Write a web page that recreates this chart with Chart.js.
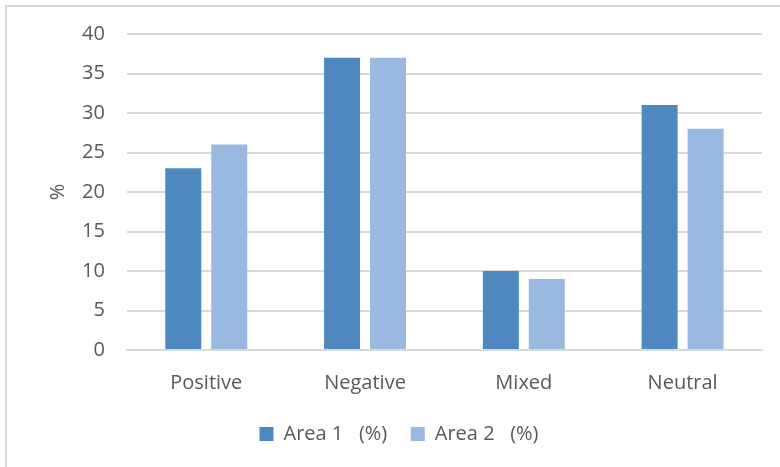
<!DOCTYPE html>
<html><head><meta charset="utf-8">
<script src="https://cdn.jsdelivr.net/npm/chart.js@4.4.1/dist/chart.umd.min.js"></script>
<style>
html,body{margin:0;padding:0;background:#fff;overflow:hidden;}
#frame{position:absolute;left:5px;top:5px;width:800px;height:500px;border:2px solid #d9d9d9;box-sizing:border-box;}
#wrap{position:absolute;left:0;top:0;width:780px;height:467px;}
</style></head>
<body>
<div id="frame"></div>
<div id="wrap"><canvas id="c" width="780" height="467"></canvas></div>
<script>
const categories = ["Positive", "Negative", "Mixed", "Neutral"];
const area1 = [23, 37, 10, 31];
const area2 = [26, 37, 9, 28];
const seriesNames = ["Area 1   (%)", "Area 2   (%)"];
const yTitle = "%";

const FONT = "'Open Sans', 'Noto Sans', sans-serif";
const FS = 20;
new Chart(document.getElementById('c'), {
  type: 'bar',
  data: {
    labels: categories,
    datasets: [
      {label: seriesNames[0], data: area1, backgroundColor: '#4f88bf', borderWidth: 0},
      {label: seriesNames[1], data: area2, backgroundColor: '#98b9e0', borderWidth: 0}
    ]
  },
  options: {
    responsive: false,
    animation: false,
    devicePixelRatio: 1,
    layout: {padding: {left: 36, right: 18, top: 33, bottom: 13}},
    datasets: {bar: {categoryPercentage: 0.579, barPercentage: 0.783}},
    plugins: {
      legend: {
        position: 'bottom',
        labels: {
          font: {family: FONT, size: FS}, color: '#595959', boxWidth: 14, boxHeight: 14, padding: 8,
          generateLabels(chart) {
            const items = Chart.defaults.plugins.legend.labels.generateLabels(chart);
            items.forEach((it, i) => { if (i < items.length - 1) it.text = it.text + '   '; });
            return items;
          }
        }
      },
      tooltip: {enabled: false}
    },
    scales: {
      x: {
        grid: {display: false, drawTicks: false},
        border: {color: '#d9d9d9', width: 2},
        ticks: {font: {family: FONT, size: FS}, color: '#595959', padding: 21}
      },
      y: {
        min: 0, max: 40,
        ticks: {stepSize: 5, font: {family: FONT, size: FS}, color: '#595959', padding: 22},
        grid: {color: '#d9d9d9', lineWidth: 2, drawTicks: false},
        border: {display: false},
        title: {display: true, text: yTitle, font: {family: FONT, size: FS}, color: '#595959', padding: {top: 10, bottom: -10}}
      }
    }
  }
});
</script>
</body></html>
